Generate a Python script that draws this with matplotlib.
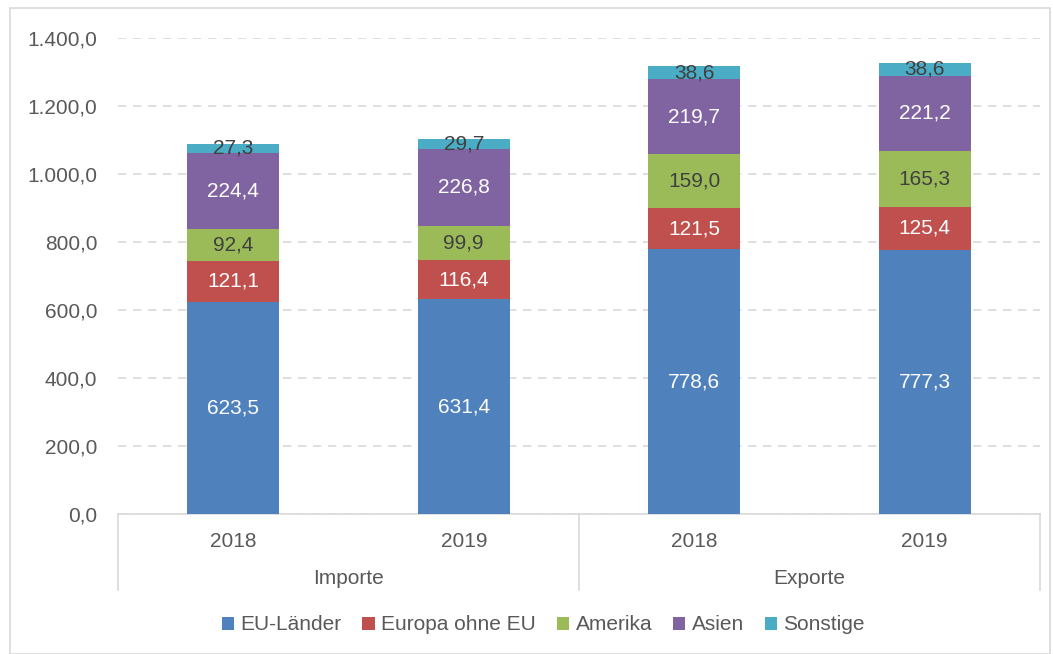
import matplotlib
matplotlib.use("Agg")
import matplotlib.pyplot as plt
from matplotlib.patches import Rectangle
from matplotlib.ticker import FuncFormatter, MultipleLocator
import numpy as np

plt.rcParams['font.family'] = ['Liberation Sans', 'DejaVu Sans']

# --- data ---
years = ['2018', '2019', '2018', '2019']
groups = ['Importe', 'Exporte']
regions = ['EU-Länder', 'Europa ohne EU', 'Amerika', 'Asien', 'Sonstige']
eu = [623.5, 631.4, 778.6, 777.3]
europa = [121.1, 116.4, 121.5, 125.4]
amerika = [92.4, 99.9, 159.0, 165.3]
asien = [224.4, 226.8, 219.7, 221.2]
sonstige = [27.3, 29.7, 38.6, 38.6]

colors = ['#4F81BD', '#C0504D', '#9BBB59', '#8064A2', '#4BACC6']
label_colors = ['white', 'white', '#404040', 'white', '#404040']
text_gray = '#595959'
line_gray = '#D9D9D9'
fs = 15


def de_fmt(v, pos=None):
    s = f"{v:,.1f}"
    return s.replace(',', 'X').replace('.', ',').replace('X', '.')


fig = plt.figure(figsize=(10.53, 6.54), dpi=100)
ax = fig.add_axes([118 / 1053, 1 - 514 / 654, 922 / 1053, 476 / 654])

# outer chart border
fig.patches.append(Rectangle((10 / 1053, 0.0), 1040 / 1053, 1 - 8 / 654,
                             transform=fig.transFigure, fill=False,
                             edgecolor=line_gray, linewidth=1.2))

x = np.arange(len(years))
bottom = np.zeros(len(years))
for series, name, col, lcol in zip([eu, europa, amerika, asien, sonstige],
                                   regions, colors, label_colors):
    vals = np.array(series)
    ax.bar(x, vals, 0.4, bottom=bottom, color=col, label=name, zorder=3)
    for xi, b, v in zip(x, bottom, vals):
        ax.text(xi, b + v / 2, de_fmt(v), ha='center', va='center',
                color=lcol, fontsize=fs, zorder=4)
    bottom += vals

ax.set_xlim(-0.5, 3.5)
ax.set_ylim(0, 1400)
ax.yaxis.set_major_locator(MultipleLocator(200))
ax.yaxis.set_major_formatter(FuncFormatter(de_fmt))
ax.grid(axis='y', color=line_gray, linestyle=(0, (5, 4)), linewidth=1.2, zorder=0)

for side in ['left', 'top', 'right']:
    ax.spines[side].set_visible(False)
ax.spines['bottom'].set_color(line_gray)
ax.spines['bottom'].set_linewidth(1.2)

ax.set_xticks(x)
ax.set_xticklabels(years)
ax.tick_params(axis='x', length=0, pad=13, labelsize=fs, labelcolor=text_gray)
ax.tick_params(axis='y', length=0, pad=15, labelsize=fs, labelcolor=text_gray)

# group labels and separators below the axis
trans = ax.get_xaxis_transform()
for i, g in enumerate(groups):
    ax.text(2 * i + 0.5, -0.136, g, transform=trans, ha='center', va='center',
            fontsize=fs, color=text_gray)
for sep in [-0.5, 1.5, 3.5]:
    ax.plot([sep, sep], [0, -0.16], transform=trans, color=line_gray,
            linewidth=1.2, clip_on=False)

fig.legend(loc='center', bbox_to_anchor=(0.516, 1 - 625 / 654), ncol=5,
           frameon=False, fontsize=fs, handlelength=0.6, handleheight=0.6,
           handletextpad=0.3, columnspacing=1.0, labelcolor=text_gray)

fig.savefig('out.png', dpi=100)
